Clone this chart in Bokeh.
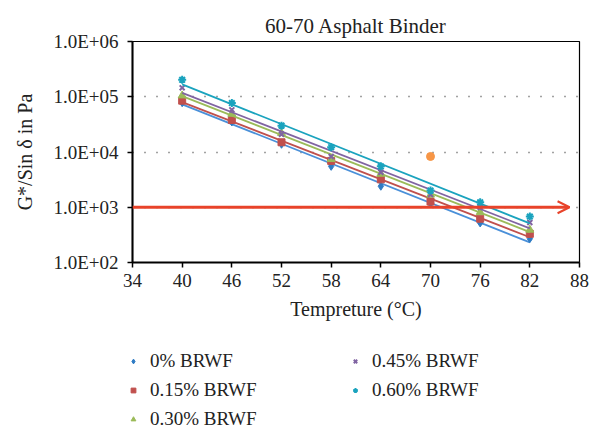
import numpy as np
from bokeh.plotting import figure
from bokeh.layouts import column, row
from bokeh.models import (ColumnDataSource, FixedTicker, CustomJSTickFormatter, Legend,
                          LegendItem, Arrow, OpenHead, Range1d)
from bokeh.embed import file_html
from bokeh.resources import INLINE

temps = [40, 46, 52, 58, 64, 70, 76, 82]
series_names = ["0% BRWF", "0.15% BRWF", "0.30% BRWF", "0.45% BRWF", "0.60% BRWF"]
g_0 = [7.8e4, 3.5e4, 1.38e4, 5.5e3, 2.4e3, 1.15e3, 5.2e2, 2.7e2]
g_15 = [8.5e4, 3.8e4, 1.5e4, 6.9e3, 3.2e3, 1.27e3, 6.2e2, 3.3e2]
g_30 = [1.05e5, 4.9e4, 2.2e4, 7.4e3, 4.0e3, 1.68e3, 8.1e2, 3.9e2]
g_45 = [1.45e5, 5.8e4, 2.1e4, 8.3e3, 4.3e3, 1.7e3, 1.0e3, 5.3e2]
g_60 = [2.03e5, 7.7e4, 3.0e4, 1.22e4, 5.5e3, 2.0e3, 1.23e3, 6.8e2]
outlier_x = [70]
outlier_y = [8.3e3]
limit_value = 1000
x_ticks = [34, 40, 46, 52, 58, 64, 70, 76, 82, 88]
y_ticks = [1e2, 1e3, 1e4, 1e5, 1e6]

all_series = [g_0, g_15, g_30, g_45, g_60]
colors = ["#2E7BC4", "#C0504D", "#9BBB59", "#8064A2", "#1AA3BE"]
line_colors = ["#4A90D9", "#C0504D", "#9BBB59", "#8064A2", "#1AA3BE"]
markers = ["diamond", "square", "triangle", "x", "asterisk"]
sizes = [8, 7, 8, 7, 8]

FONT = "Liberation Serif"

p = figure(width=598, height=340, y_axis_type="log", output_backend="svg",
           toolbar_location=None, x_range=Range1d(34, 88), y_range=Range1d(1e2, 1e6),
           min_border_left=132, min_border_right=19, min_border_top=41, min_border_bottom=78)

p.title.text = "60-70 Asphalt Binder"
p.title.align = "center"
p.title.text_font = FONT
p.title.text_font_size = "21px"
p.title.text_font_style = "normal"
p.title.text_color = "#222222"
p.title.standoff = 8

p.outline_line_color = "black"
p.outline_line_width = 1.2

# grid
p.xgrid.grid_line_color = None
p.ygrid.grid_line_color = "#444444"
p.ygrid.grid_line_dash = "1 11"
p.ygrid.grid_line_width = 1.5
p.ygrid.ticker = FixedTicker(ticks=y_ticks)

# axes
p.xaxis.ticker = FixedTicker(ticks=x_ticks)
p.yaxis.ticker = FixedTicker(ticks=y_ticks, minor_ticks=[])
p.yaxis.formatter = CustomJSTickFormatter(code="""
const e = Math.round(Math.log10(tick));
return "1.0E" + (e < 0 ? "-" : "+") + String(Math.abs(e)).padStart(2, "0");
""")
for ax in (p.xaxis[0], p.yaxis[0]):
    ax.axis_line_color = "black"
    ax.axis_line_width = 2
    ax.major_tick_line_color = "black"
    ax.major_tick_line_width = 1.5
    ax.major_tick_in = 0
    ax.major_tick_out = 5
    ax.minor_tick_line_color = None
    ax.major_label_text_font = FONT
    ax.major_label_text_font_size = "19px"
    ax.major_label_text_color = "#222222"
    ax.axis_label_text_font = FONT
    ax.axis_label_text_font_size = "20px"
    ax.axis_label_text_font_style = "normal"
    ax.axis_label_text_color = "#222222"
p.xaxis.axis_label = "Tempreture (°C)"
p.yaxis.axis_label = "G*/Sin δ in Pa"
p.xaxis.major_label_standoff = 6
p.yaxis.major_label_standoff = 9
p.xaxis.axis_label_standoff = 8
p.yaxis.axis_label_standoff = 14

# data + trendlines
tx = np.array(temps, dtype=float)
for name, ys, c, lc, m, s in zip(series_names, all_series, colors, line_colors, markers, sizes):
    ly = np.log10(np.array(ys, dtype=float))
    k, b = np.polyfit(tx, ly, 1)
    fx = np.array([tx.min(), tx.max()])
    fy = 10 ** (k * fx + b)
    p.line(fx, fy, line_color=lc, line_width=1.8)
    src = ColumnDataSource(dict(x=temps, y=ys))
    p.scatter("x", "y", source=src, marker=m, size=s, fill_color=c, line_color=c,
              line_width=2 if m in ("x", "asterisk") else 1)

p.scatter(outlier_x, outlier_y, marker="circle", size=8, fill_color="#F79646",
          line_color="#F79646")

arrow = Arrow(x_start=34, y_start=limit_value, x_end=86.8, y_end=limit_value,
              line_color="#E8432A", line_width=3,
              end=OpenHead(line_color="#E8432A", line_width=2, size=12))
p.add_layout(arrow)

# legend figure (two columns: 0%, 0.15%, 0.30% | 0.45%, 0.60%)
lf = figure(width=598, height=90, output_backend="svg", toolbar_location=None,
            x_range=Range1d(0, 1), y_range=Range1d(0, 1),
            min_border_left=0, min_border_right=0, min_border_top=0, min_border_bottom=0)
lf.axis.visible = False
lf.grid.visible = False
lf.outline_line_color = None
items = {}
for name, c, m, s in zip(series_names, colors, markers, sizes):
    # key glyph only: single point placed outside the visible range
    r = lf.scatter(x=[5], y=[5], marker=m, size=s - 1, fill_color=c, line_color=c,
                   line_width=2 if m in ("x", "asterisk") else 1)
    items[name] = LegendItem(label=name, renderers=[r])
order = [series_names[0], series_names[3], series_names[1], series_names[4], series_names[2]]
legend = Legend(items=[items[n] for n in order], ncols=2, orientation="horizontal",
                location=(127, 0),
                label_text_font=FONT, label_text_font_size="19px",
                label_text_color="#222222", border_line_color=None,
                background_fill_alpha=0, glyph_width=12, glyph_height=20,
                label_width=192, spacing=7, padding=0, margin=0,
                label_standoff=11, label_height=20)
lf.add_layout(legend, "center")

layout = column(p, row(lf), spacing=0)
open("out.html", "w").write(file_html(layout, INLINE))
